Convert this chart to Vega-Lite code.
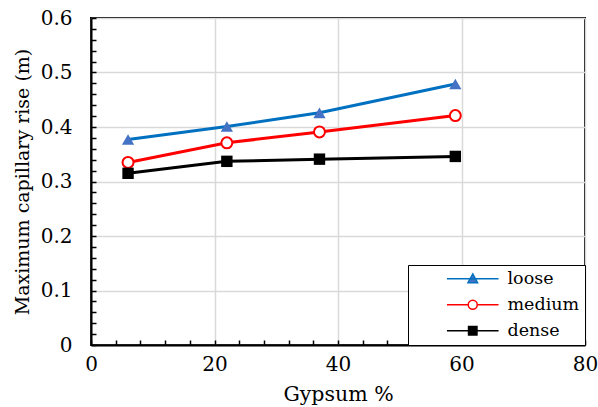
{
  "$schema": "https://vega.github.io/schema/vega-lite/v6.json",
  "width": 494,
  "height": 327,
  "autosize": {"type": "none"},
  "padding": {"left": 91, "top": 18, "right": 13, "bottom": 62},
  "background": "white",
  "config": {
    "view": {"stroke": "black", "strokeWidth": 2},
    "axis": {
      "labelFont": "DejaVu Serif",
      "titleFont": "DejaVu Serif",
      "labelFontSize": 20,
      "titleFontSize": 20.5,
      "titleFontWeight": "normal",
      "labelColor": "black",
      "titleColor": "black",
      "tickColor": "black",
      "tickWidth": 1.5,
      "tickSize": -5,
      "domainColor": "black",
      "domainWidth": 2,
      "gridWidth": 1.5,
      "labelOverlap": false,
      "labelFlush": false
    }
  },
  "data": {
    "values": [
      {"state": "loose", "gypsum": 6, "rise": 0.377},
      {"state": "loose", "gypsum": 22, "rise": 0.401},
      {"state": "loose", "gypsum": 37, "rise": 0.426},
      {"state": "loose", "gypsum": 59, "rise": 0.479},
      {"state": "medium", "gypsum": 6, "rise": 0.335},
      {"state": "medium", "gypsum": 22, "rise": 0.371},
      {"state": "medium", "gypsum": 37, "rise": 0.391},
      {"state": "medium", "gypsum": 59, "rise": 0.421},
      {"state": "dense", "gypsum": 6, "rise": 0.315},
      {"state": "dense", "gypsum": 22, "rise": 0.337},
      {"state": "dense", "gypsum": 37, "rise": 0.341},
      {"state": "dense", "gypsum": 59, "rise": 0.346}
    ]
  },
  "encoding": {
    "x": {
      "field": "gypsum",
      "type": "quantitative",
      "scale": {"domain": [0, 80], "nice": false},
      "axis": {
        "title": "Gypsum %",
        "values": [0, 4, 8, 12, 16, 20, 24, 28, 32, 36, 40, 44, 48, 52, 56, 60, 64, 68, 72, 76, 80],
        "labelExpr": "datum.value % 20 === 0 ? datum.label : ''",
        "gridColor": {"condition": {"test": "datum.value % 20 === 0", "value": "#d9d9d9"}, "value": "transparent"},
        "labelPadding": 14,
        "titlePadding": 10
      }
    },
    "y": {
      "field": "rise",
      "type": "quantitative",
      "scale": {"domain": [0, 0.6], "nice": false},
      "axis": {
        "title": "Maximum capillary rise (m)",
        "titleFontSize": 19,
        "values": [0, 0.02, 0.04, 0.06, 0.08, 0.1, 0.12, 0.14, 0.16, 0.18, 0.2, 0.22, 0.24, 0.26, 0.28, 0.3, 0.32, 0.34, 0.36, 0.38, 0.4, 0.42, 0.44, 0.46, 0.48, 0.5, 0.52, 0.54, 0.56, 0.58, 0.6],
        "labelExpr": "abs(datum.value*10 - round(datum.value*10)) < 0.001 ? (datum.value == 0 ? '0' : format(datum.value, '.1f')) : ''",
        "gridColor": {"condition": {"test": "abs(datum.value*10 - round(datum.value*10)) < 0.001", "value": "#d9d9d9"}, "value": "transparent"},
        "labelPadding": 24,
        "titlePadding": 8
      }
    }
  },
  "layer": [
    {
      "mark": {"type": "line", "strokeWidth": 3},
      "encoding": {
        "stroke": {
          "field": "state",
          "type": "nominal",
          "scale": {"domain": ["loose", "medium", "dense"], "range": ["#0070C0", "#FF0000", "#000000"]},
          "legend": {
            "disable": false, "title": null, "orient": "bottom-right", "offset": 0, "padding": 5,
            "strokeColor": "black", "fillColor": "white", "symbolSize": 144, "symbolOffset": 51,
            "labelOffset": 26, "rowPadding": 7, "labelFont": "DejaVu Serif", "labelFontSize": 17.5, "labelColor": "black",
            "labelExpr": "datum.label + '\u00a0\u00a0\u00a0\u00a0\u00a0\u00a0\u00a0\u00a0\u00a0\u00a0\u00a0\u00a0\u00a0'"
          }
        }
      }
    },
    {
      "transform": [{"filter": "false"}],
      "mark": {"type": "point", "strokeWidth": 2.5, "size": 130, "opacity": 1},
      "encoding": {
        "color": {
          "field": "state",
          "type": "nominal",
          "scale": {"domain": ["loose", "medium", "dense"], "range": ["#0070C0", "#FF0000", "#000000"]},
          "legend": null
        },
        "fill": {
          "field": "state",
          "type": "nominal",
          "scale": {"domain": ["loose", "medium", "dense"], "range": ["#4472C4", "#FFFFFF", "#000000"]},
          "legend": null
        },
        "shape": {
          "field": "state",
          "type": "nominal",
          "scale": {
            "domain": ["loose", "medium", "dense"],
            "range": [
              "M-4.3,0L4.3,0M0,-0.8L0.8,0.65L-0.8,0.65Z",
              "M-4.3,0L-0.75,0M0.75,0L4.3,0M0.75,0A0.75,0.75 0 1 1 -0.75,0A0.75,0.75 0 1 1 0.75,0Z",
              "M-4.3,0L4.3,0M-0.7,-0.7L0.7,-0.7L0.7,0.7L-0.7,0.7Z"
            ]
          },
          "legend": null
        }
      }
    },
    {
      "transform": [{"filter": {"field": "state", "equal": "loose"}}],
      "mark": {"type": "point", "shape": "triangle-up", "filled": true, "size": 150, "color": "#4472C4", "opacity": 1}
    },
    {
      "transform": [{"filter": {"field": "state", "equal": "medium"}}],
      "mark": {"type": "point", "shape": "circle", "filled": false, "size": 120, "stroke": "#FF0000", "fill": "#FFFFFF", "strokeWidth": 2, "opacity": 1}
    },
    {
      "transform": [{"filter": {"field": "state", "equal": "dense"}}],
      "mark": {"type": "point", "shape": "square", "filled": true, "size": 130, "color": "#000000", "opacity": 1}
    }
  ]
}
